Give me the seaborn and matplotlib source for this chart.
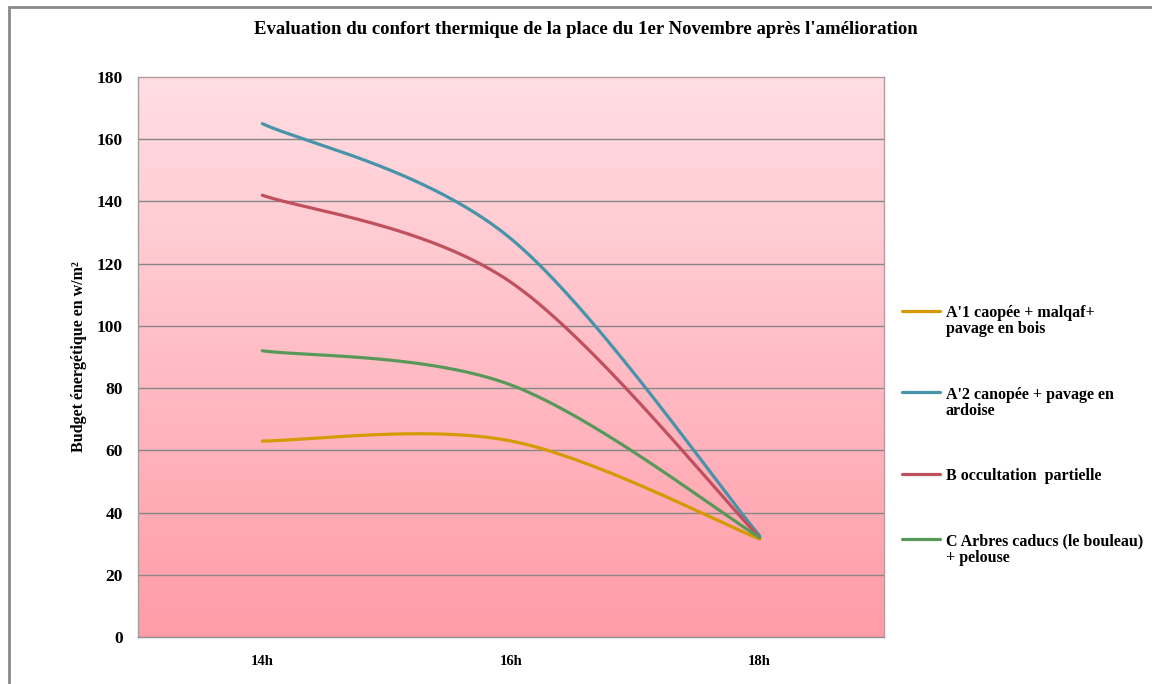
import numpy as np
import pandas as pd
import matplotlib
matplotlib.use('Agg')
import matplotlib.pyplot as plt
import seaborn as sns
from matplotlib.colors import LinearSegmentedColormap
from matplotlib.patches import Rectangle

# data
hours = ['14h', '16h', '18h']
a1_vals = [63, 63, 31.5]
a2_vals = [165, 128, 32.5]
b_vals = [142, 114, 32]
c_vals = [92, 81, 32]
series_labels = ["A'1 caopée + malqaf+\npavage en bois",
                 "A'2 canopée + pavage en\nardoise",
                 "B occultation  partielle",
                 "C Arbres caducs (le bouleau)\n+ pelouse"]
series_vals = [a1_vals, a2_vals, b_vals, c_vals]
colors = ['#D69A00', '#4794AA', '#C0505E', '#58995A']

title = "Evaluation du confort thermique de la place du 1er Novembre après l'amélioration"
ylabel = "Budget énergétique en w/m²"


def smooth(xs, ys, n=80):
    # excel-like smoothed line: bezier segments through the points
    pts = np.column_stack([xs, ys]).astype(float)
    ext = np.vstack([pts[0], pts, pts[-1]])
    t = np.linspace(0, 1, n)[:, None]
    out = []
    for i in range(len(pts) - 1):
        p0, p3 = ext[i + 1], ext[i + 2]
        c1 = p0 + (ext[i + 2] - ext[i]) / 6
        c2 = p3 - (ext[i + 3] - ext[i + 1]) / 6
        seg = (1 - t) ** 3 * p0 + 3 * (1 - t) ** 2 * t * c1 + 3 * (1 - t) * t ** 2 * c2 + t ** 3 * p3
        out.append(seg if i == 0 else seg[1:])
    return np.vstack(out)


frames = []
for lab, vals in zip(series_labels, series_vals):
    curve = smooth(np.arange(len(hours)), vals)
    frames.append(pd.DataFrame({'x': curve[:, 0], 'y': curve[:, 1], 'serie': lab}))
df = pd.concat(frames, ignore_index=True)

sns.set_style('white')
plt.rcParams['font.family'] = ['Liberation Serif', 'DejaVu Serif']
plt.rcParams['font.weight'] = 'bold'
plt.rcParams['text.color'] = 'black'
plt.rcParams['xtick.color'] = 'black'
plt.rcParams['ytick.color'] = 'black'
plt.rcParams['axes.labelcolor'] = 'black'

fig = plt.figure(figsize=(11.52, 6.84), dpi=100)
ax = fig.add_axes([138 / 1152, 1 - 637 / 684, 746 / 1152, 560 / 684])

# outer frame of the chart
fig.patches.append(Rectangle((9 / 1152, -0.05), 1.1, 1 - 7 / 684 + 0.05, transform=fig.transFigure,
                             fill=False, edgecolor='#8a8a8a', linewidth=2, zorder=0))

# pink gradient background
cmap = LinearSegmentedColormap.from_list('bg', ['#FF9CA8', '#FFDEE3'])
grad = np.linspace(0, 1, 256).reshape(-1, 1)
ax.imshow(grad, extent=[0, 1, 0, 1], transform=ax.transAxes, aspect='auto',
          cmap=cmap, origin='lower', zorder=0)

for yv in range(20, 180, 20):
    ax.axhline(yv, color='#878787', linewidth=1, zorder=1)

sns.lineplot(data=df, x='x', y='y', hue='serie', hue_order=series_labels, palette=colors,
             estimator=None, sort=False, linewidth=2.3, ax=ax, zorder=3)
handles, labs = ax.get_legend_handles_labels()
ax.get_legend().remove()

ax.set_xlim(-0.5, 2.5)
ax.set_ylim(0, 180)
ax.set_xticks(range(len(hours)))
ax.set_xticklabels(hours)
ax.set_yticks(range(0, 181, 20))
ax.tick_params(length=0)
ax.tick_params(axis='x', pad=13, labelsize=10.5)
ax.tick_params(axis='y', pad=11, labelsize=12.5)
ax.set_xlabel('')
ax.set_ylabel(ylabel, fontsize=11.5, fontweight='bold', labelpad=7)
for s in ax.spines.values():
    s.set_color('#b89a9e')
    s.set_linewidth(1)
ax.spines['bottom'].set_color('#909090')
ax.spines['left'].set_color('#a0a0a0')

fig.text(0.5 + 10 / 1152, 1 - 30 / 684, title, ha='center', va='center', fontsize=13.5, fontweight='bold')

leg = fig.legend(handles, labs, loc='upper left', bbox_to_anchor=(902 / 1152, 1 - 305 / 684),
                 frameon=False, fontsize=11.5, handlelength=2.4, handletextpad=0.35,
                 labelspacing=3.1, borderpad=0, borderaxespad=0)
for col in leg._legend_handle_box.get_children():
    for row in col.get_children():
        row.align = 'top'
for txt in leg.get_texts():
    txt.set_linespacing(1.0)
for line in leg.get_lines():
    line.set_linewidth(2.3)

fig.savefig('out.png', dpi=100)
